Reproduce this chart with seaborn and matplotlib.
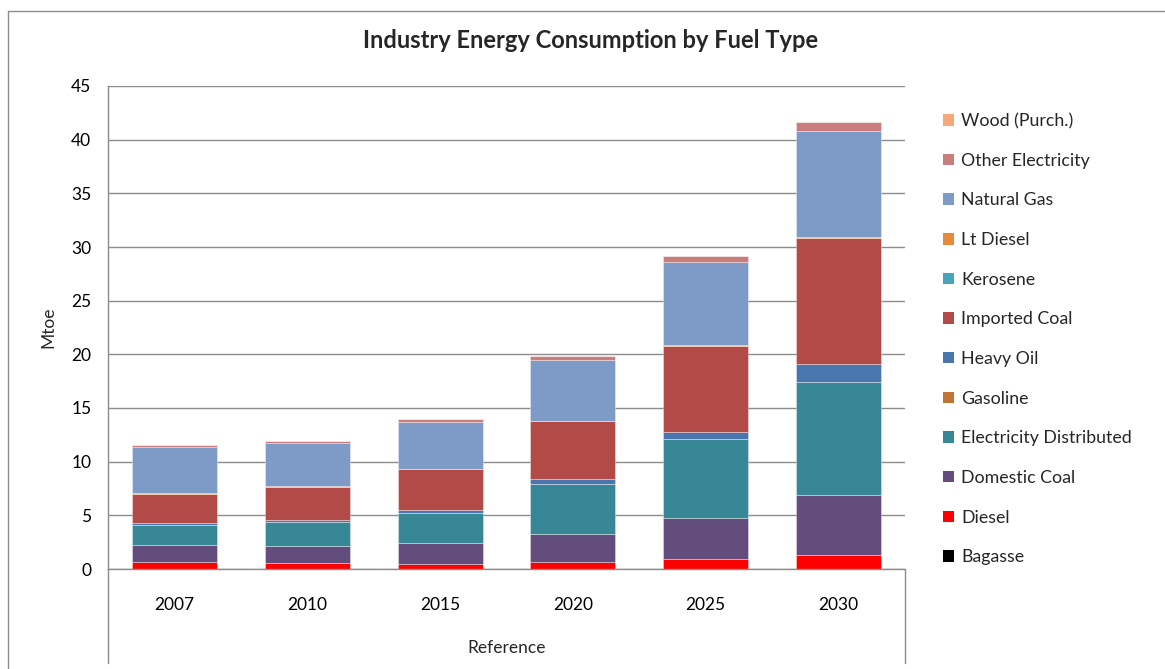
import numpy as np
import pandas as pd
import matplotlib
matplotlib.use("Agg")
import matplotlib.pyplot as plt
from matplotlib.patches import Patch
from matplotlib.lines import Line2D
import seaborn as sns

# ---- data (Mtoe, segment heights) ----
years = ["2007", "2010", "2015", "2020", "2025", "2030"]
bagasse = [0.0, 0.0, 0.0, 0.0, 0.0, 0.0]
diesel = [0.62, 0.52, 0.43, 0.65, 0.90, 1.27]
domestic_coal = [1.62, 1.59, 1.96, 2.58, 3.82, 5.60]
electricity_distributed = [1.86, 2.24, 2.80, 4.70, 7.41, 10.51]
gasoline = [0.02, 0.02, 0.02, 0.02, 0.02, 0.02]
heavy_oil = [0.17, 0.20, 0.29, 0.45, 0.63, 1.72]
imported_coal = [2.67, 3.04, 3.79, 5.37, 8.02, 11.72]
kerosene = [0.01, 0.01, 0.01, 0.01, 0.01, 0.01]
lt_diesel = [0.08, 0.14, 0.03, 0.03, 0.04, 0.10]
natural_gas = [4.30, 4.02, 4.35, 5.65, 7.75, 9.90]
other_electricity = [0.18, 0.19, 0.28, 0.37, 0.53, 0.75]
wood_purch = [0.0, 0.0, 0.0, 0.0, 0.0, 0.0]

series_names = ["Bagasse", "Diesel", "Domestic Coal", "Electricity Distributed",
                "Gasoline", "Heavy Oil", "Imported Coal", "Kerosene", "Lt Diesel",
                "Natural Gas", "Other Electricity", "Wood (Purch.)"]
series_values = [bagasse, diesel, domestic_coal, electricity_distributed, gasoline,
                 heavy_oil, imported_coal, kerosene, lt_diesel, natural_gas,
                 other_electricity, wood_purch]
series_colors = ["#000000", "#FF0000", "#634D7C", "#388797", "#C07535", "#4A76B0",
                 "#B24A47", "#46A4BB", "#E8893E", "#7E9BC8", "#C97D7D", "#F8A878"]
y_ticks = [0, 5, 10, 15, 20, 25, 30, 35, 40, 45]

sns.set_theme(style="white")
plt.rcParams["font.family"] = ["Lato", "DejaVu Sans"]

W, H = 1165, 669
FS = 12.5
fig = plt.figure(figsize=(W / 100, H / 100), dpi=100)
ax = fig.add_axes([108 / W, 1 - 569 / H, (905 - 108) / W, (569 - 86) / H])

bottom = np.zeros(len(years))
for name, vals, col in zip(series_names, series_values, series_colors):
    df = pd.DataFrame({"year": years, "val": vals})
    sns.barplot(data=df, x="year", y="val", order=years, color=col, ax=ax,
                width=0.64, bottom=bottom.copy(), saturation=1,
                edgecolor=(1, 1, 1, 0.35), linewidth=0.7, errorbar=None)
    bottom = bottom + np.array(vals)

ax.set_ylim(0, 45)
ax.set_xlim(-0.5, len(years) - 0.5)
ax.set_yticks(y_ticks)
ax.yaxis.grid(True, color="#8C8C8C", linewidth=1.0)
ax.set_axisbelow(True)
ax.set_xlabel("")
ax.set_ylabel("")
for s in ["top", "right"]:
    ax.spines[s].set_visible(False)
ax.spines["left"].set_color("#8C8C8C")
ax.spines["bottom"].set_color("#8C8C8C")
ax.spines["left"].set_linewidth(1.0)
ax.spines["bottom"].set_linewidth(1.0)
ax.tick_params(axis="both", length=0, labelsize=FS, colors="black")
ax.tick_params(axis="x", pad=20)
ax.tick_params(axis="y", pad=12)

# multi-level category axis box
ax.plot([0, 0], [0, -0.195], transform=ax.transAxes, color="#8C8C8C", lw=1.0, clip_on=False)
ax.plot([1, 1], [0, -0.195], transform=ax.transAxes, color="#8C8C8C", lw=1.0, clip_on=False)
ax.text(0.5, -0.163, "Reference", transform=ax.transAxes, ha="center", va="center", fontsize=FS)

fig.text(48 / W, 1 - 327 / H, "Mtoe", rotation=90, ha="center", va="center", fontsize=FS)
fig.text(591 / W, 1 - 40 / H, "Industry Energy Consumption by Fuel Type",
         ha="center", va="center", fontsize=17, fontweight="bold")

# outer chart border
fig.add_artist(Line2D([8 / W, 8 / W], [0, 1 - 11 / H], color="#8C8C8C", lw=1.0))
fig.add_artist(Line2D([8 / W, 1], [1 - 11 / H, 1 - 11 / H], color="#8C8C8C", lw=1.0))

handles = [Patch(facecolor=c, edgecolor="none", label=n)
           for n, c in zip(series_names, series_colors)][::-1]
fig.legend(handles=handles, loc="upper left", bbox_to_anchor=(943 / W, 1 - 113 / H),
           frameon=False, fontsize=12.8, handlelength=0.62, handleheight=0.62,
           handletextpad=0.42, labelspacing=1.33, borderpad=0, borderaxespad=0)

fig.savefig("out.png", dpi=100)
